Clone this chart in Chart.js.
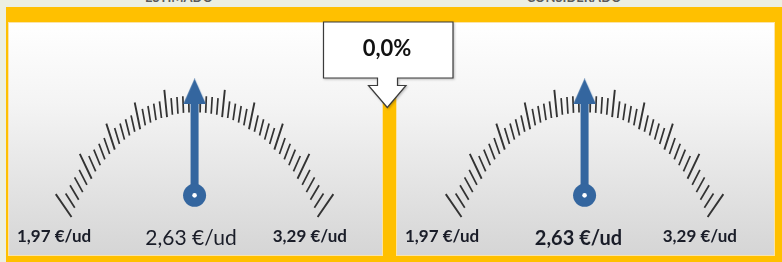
<!DOCTYPE html>
<html>
<head>
<meta charset="utf-8">
<script src="https://cdn.jsdelivr.net/npm/chart.js@4.4.1/dist/chart.umd.min.js"></script>
<style>
  body { margin:0; width:782px; height:262px; overflow:hidden; position:relative; background:#ecefe1; font-family:Lato, 'Open Sans', sans-serif; }
  #frame { position:absolute; left:6px; top:7px; width:776px; height:255px; background:#ffc000; }
  .panel { position:absolute; top:22px; height:234px; background:linear-gradient(#ffffff 0%, #f4f4f4 35%, #d5d5d5 100%); box-shadow:inset 0 0 0 1px #fbe4a8; }
  .panel canvas { position:absolute; top:0; }
  .title { position:absolute; top:-11px; font:bold 13px Lato, sans-serif; color:#5a5a5a; transform:translateX(-50%); white-space:nowrap; }
  .lbl { position:absolute; color:#1a1d28; white-space:nowrap; line-height:1.2; }
  .side { font-weight:bold; font-size:17px; }
  .mid { font-size:21px; transform:translateX(-50%); }
  #callout { position:absolute; left:0; top:0; }
  #pct { position:absolute; left:387px; top:35px; transform:translateX(-50%); font:bold 22px/1.2 Lato, sans-serif; color:#111; }
</style>
</head>
<body>
<div class="title" style="left:179px">ESTIMADO</div>
<div class="title" style="left:574px">CONSIDERADO</div>
<div id="frame"></div>
<div class="panel" id="p0" style="left:8px;width:375px"><canvas id="c0" width="375" height="234" style="left:0"></canvas></div>
<div class="panel" id="p1" style="left:396px;width:379px"><canvas id="c1" width="375" height="234" style="left:2px"></canvas></div>
<svg id="callout" width="782" height="262">
  <path d="M323.5 22 H453 V78 H397.5 V85.5 H406 L387.3 107.5 L368.5 85.5 H377.5 V78 H323.5 Z"
        fill="#ffffff" stroke="#3b3b3b" stroke-width="1.2" style="filter:drop-shadow(1px 1px 1px rgba(0,0,0,0.25))"/>
</svg>
<div id="pct"></div>
<script>
// gauge data
const gaugeTitles = ['ESTIMADO', 'CONSIDERADO'];
const rangeMin = [1.97, 1.97];
const rangeMax = [3.29, 3.29];
const gaugeValues = [2.63, 2.63];
const changePct = 0.0;
const subdivisions = 50;   // scale ticks between min and max
const majorEvery = 5;

const blue = '#34669f';
const tickColor = '#333333';

// dial geometry (chart units = px of the canvas, origin at the dial axis)
const G = { cx: 186.5, w: 375, h: 234, pivotY: 181, needleLen: 131, focusY: 408, majorLen: 31, minorFrom: 11, minorTo: 30 };

function dialPoint(t) { return { x: 164 * t - 14 * t * t * t, y: 56.6 + 117 * t * t + 6 * t ** 4 }; }
function inward(p) { const dx = -p.x, dy = G.focusY - p.y, l = Math.hypot(dx, dy); return { x: dx / l, y: dy / l }; }

const fmt = v => v.toFixed(2).replace('.', ',') + ' €/ud';
document.getElementById('pct').textContent = changePct.toFixed(1).replace('.', ',') + '%';

// arrow head used as point style
const head = document.createElement('canvas');
head.width = 23; head.height = 26;
(function () {
  const c = head.getContext('2d');
  c.fillStyle = blue;
  c.beginPath(); c.moveTo(11.5, 0); c.lineTo(23, 26); c.lineTo(0, 26); c.closePath(); c.fill();
})();

gaugeValues.forEach((val, g) => {
  const lo = rangeMin[g], hi = rangeMax[g], mid = (lo + hi) / 2, half = (hi - lo) / 2;
  const minor = [], major = [];
  for (let i = 0; i <= subdivisions; i++) {
    const v = lo + i * (hi - lo) / subdivisions;
    const p = dialPoint((v - mid) / half), d = inward(p);
    if (i % majorEvery === 0) {
      major.push({ x: p.x, y: p.y }, { x: p.x + d.x * G.majorLen, y: p.y + d.y * G.majorLen }, { x: NaN, y: NaN });
    } else {
      minor.push({ x: p.x + d.x * G.minorFrom, y: p.y + d.y * G.minorFrom }, { x: p.x + d.x * G.minorTo, y: p.y + d.y * G.minorTo }, { x: NaN, y: NaN });
    }
  }
  // needle
  const target = dialPoint((val - mid) / half);
  let nx = target.x, ny = target.y - G.pivotY;
  const nl = Math.hypot(nx, ny); nx /= nl; ny /= nl;
  const tip = { x: nx * G.needleLen, y: G.pivotY + ny * G.needleLen };
  const ang = Math.atan2(nx, -ny) * 180 / Math.PI;

  new Chart(document.getElementById('c' + g), {
    type: 'scatter',
    data: {
      datasets: [
        { data: minor, showLine: true, borderColor: tickColor, borderWidth: 1.7, pointRadius: 0, order: 6 },
        { data: major, showLine: true, borderColor: tickColor, borderWidth: 1.9, pointRadius: 0, order: 5 },
        { data: [{ x: 0, y: G.pivotY }, { x: tip.x - nx * 22, y: tip.y - ny * 22 }], showLine: true, borderColor: blue, borderWidth: 8, pointRadius: 0, order: 3 },
        { data: [{ x: tip.x - nx * 13, y: tip.y - ny * 13 }], pointStyle: head, rotation: ang, pointRadius: 13, order: 2 },
        { data: [{ x: 0, y: G.pivotY }], pointRadius: 11.5, backgroundColor: blue, borderWidth: 0, order: 1 },
        { data: [{ x: 0, y: G.pivotY }], pointRadius: 2.3, backgroundColor: '#ffffff', borderWidth: 0, order: 0 }
      ]
    },
    options: {
      responsive: false, animation: false, events: [],
      layout: { padding: 0 },
      scales: {
        x: { type: 'linear', display: false, min: -G.cx, max: G.w - G.cx },
        y: { type: 'linear', display: false, min: 0, max: G.h, reverse: true }
      },
      plugins: { legend: { display: false }, tooltip: { enabled: false } }
    }
  });

  const panel = document.getElementById('p' + g);
  const mk = (cls, text, style) => { const d = document.createElement('div'); d.className = 'lbl ' + cls; d.textContent = text; Object.assign(d.style, style); panel.appendChild(d); return d; };
  mk('side', fmt(lo), { left: '9px', top: '204px' });
  mk('side', fmt(hi), { right: g ? '38px' : '36px', top: '204px' });
  const m = mk('mid', fmt(val), { left: g ? '182.5px' : '183px', top: '202px' });
  if (g === 1) { m.style.fontWeight = 'bold'; m.style.fontSize = '20px'; m.style.top = '203px'; }
});
</script>
</body>
</html>
